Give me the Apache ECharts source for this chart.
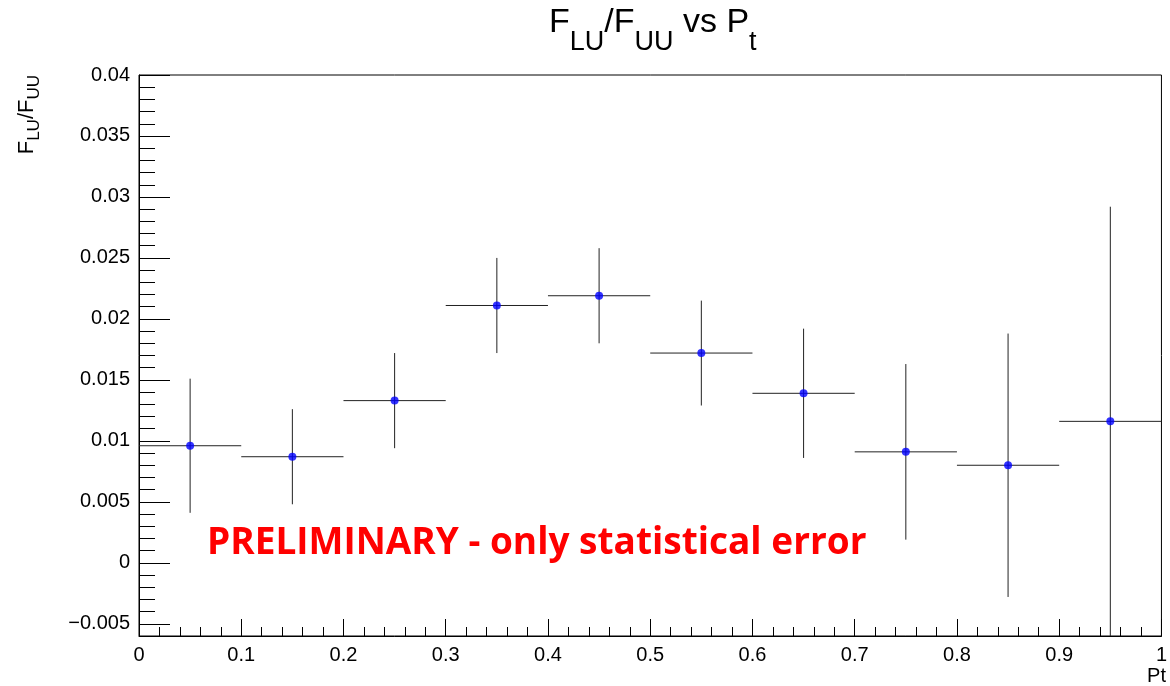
<!DOCTYPE html>
<html>
<head>
<meta charset="utf-8">
<script src="https://cdn.jsdelivr.net/npm/echarts@6/dist/echarts.min.js"></script>
<style>
  html, body { margin: 0; padding: 0; background: #fff; }
  #main { width: 1170px; height: 686px; }
</style>
</head>
<body>
<div id="main"></div>
<script>
// bin centres, values and statistical errors
var ptBins = [0.05, 0.15, 0.25, 0.35, 0.45, 0.55, 0.65, 0.75, 0.85, 0.95];
var ratio  = [0.0096, 0.0087, 0.0133, 0.0211, 0.0219, 0.0172, 0.0139, 0.0091, 0.0080, 0.0116];
var ratioErr = [0.0055, 0.0039, 0.0039, 0.0039, 0.0039, 0.0043, 0.0053, 0.0072, 0.0108, 0.0176];
var binHalf = 0.05;

var yTicks = [-0.005, 0, 0.005, 0.01, 0.015, 0.02, 0.025, 0.03, 0.035, 0.04];
var Y_MIN = -0.006, Y_MAX = 0.04;

var myChart = echarts.init(document.getElementById('main'));

function fmt(v){
    var r = +v.toFixed(4);
    if (r === 0) return '0';
    return (r < 0 ? '\u2212' : '') + String(Math.abs(r));
}

var labelFont = 'Liberation Sans';

var option = {
    animation: false,
    backgroundColor: '#fff',
    title: {
        // centred over the frame, not the canvas
        text: '{a|F}{s|LU}{a|/F}{s|UU}{a| vs P}{s|t}',
        left: 549,
        top: 6,
        padding: 0,
        textStyle: {
            rich: {
                a: { fontFamily: labelFont, fontWeight: 'normal', fontSize: 34, lineHeight: 36, color: '#000', verticalAlign: 'top' },
                s: { fontFamily: labelFont, fontWeight: 'normal', fontSize: 27, lineHeight: 28, color: '#000', verticalAlign: 'top', padding: [23, 0, 0, 0] }
            }
        }
    },
    grid: {
        left: 139, right: 4, top: 75, bottom: 50,
        show: true, borderColor: '#000', borderWidth: 1
    },
    xAxis: {
        type: 'value', min: 0, max: 1, interval: 0.1,
        axisLine: { onZero: false, lineStyle: { color: '#000' } },
        axisTick: { inside: true, length: 17, lineStyle: { color: '#000' } },
        minorTick: { show: true, splitNumber: 5, length: 9, lineStyle: { color: '#000' } },
        splitLine: { show: false },
        axisLabel: { color: '#000', fontFamily: labelFont, fontSize: 20, margin: 9, formatter: fmt }
    },
    yAxis: [{
        type: 'value', min: Y_MIN, max: Y_MAX,
        axisLine: { show: true, onZero: false, lineStyle: { color: '#000' } },
        axisTick: { show: true, inside: true, length: 31, customValues: yTicks, lineStyle: { color: '#000' } },
        splitLine: { show: false },
        axisLabel: { color: '#000', fontFamily: labelFont, fontSize: 20, margin: 9, customValues: yTicks, formatter: fmt }
    }, {
        // minor ticks only
        type: 'value', min: Y_MIN, max: Y_MAX, interval: 0.001, position: 'left',
        axisLine: { show: false, onZero: false },
        axisTick: { show: true, inside: true, length: 16, lineStyle: { color: '#000' } },
        splitLine: { show: false },
        axisLabel: { show: false }
    }],
    graphic: [{
        type: 'text',
        x: 28, y: 75,
        rotation: Math.PI / 2,
        style: {
            text: '{a|F}{s|LU}{a|/F}{s|UU}',
            align: 'right',
            verticalAlign: 'middle',
            rich: {
                a: { fontFamily: labelFont, fontSize: 22, lineHeight: 24, fill: '#000', verticalAlign: 'top' },
                s: { fontFamily: labelFont, fontSize: 17, lineHeight: 18, fill: '#000', verticalAlign: 'top', padding: [10, 0, 0, 0] }
            }
        }
    }, {
        type: 'text',
        x: 1166, y: 676,
        style: {
            text: 'Pt', align: 'right', verticalAlign: 'middle',
            fontFamily: labelFont, fontSize: 20, fill: '#000'
        }
    }, {
        type: 'text',
        x: 207, y: 543,
        z: 10,
        style: {
            text: 'PRELIMINARY - only statistical error', align: 'left', verticalAlign: 'middle',
            fontFamily: 'Open Sans', fontWeight: 'bold', fontSize: 37, fill: '#ff0000'
        }
    }],
    series: [{
        type: 'custom',
        data: ptBins.map(function(x, i){ return [x, ratio[i], ratioErr[i]]; }),
        renderItem: function(params, api){
            var x = api.value(0), y = api.value(1), e = api.value(2);
            var lo = Math.max(y - e, Y_MIN), hi = Math.min(y + e, Y_MAX);
            var pL = api.coord([x - binHalf, y]), pR = api.coord([x + binHalf, y]);
            var pB = api.coord([x, lo]), pT = api.coord([x, hi]);
            var st = { stroke: '#222', lineWidth: 1 };
            return {
                type: 'group',
                children: [
                    { type: 'line', shape: { x1: pL[0], y1: pL[1], x2: pR[0], y2: pR[1] }, style: st },
                    { type: 'line', shape: { x1: pB[0], y1: pB[1], x2: pT[0], y2: pT[1] }, style: st }
                ]
            };
        },
        z: 2
    }, {
        type: 'scatter',
        data: ptBins.map(function(x, i){ return [x, ratio[i]]; }),
        symbolSize: 8,
        itemStyle: { color: '#0000ff' },
        z: 3
    }]
};

myChart.setOption(option);
</script>
</body>
</html>
